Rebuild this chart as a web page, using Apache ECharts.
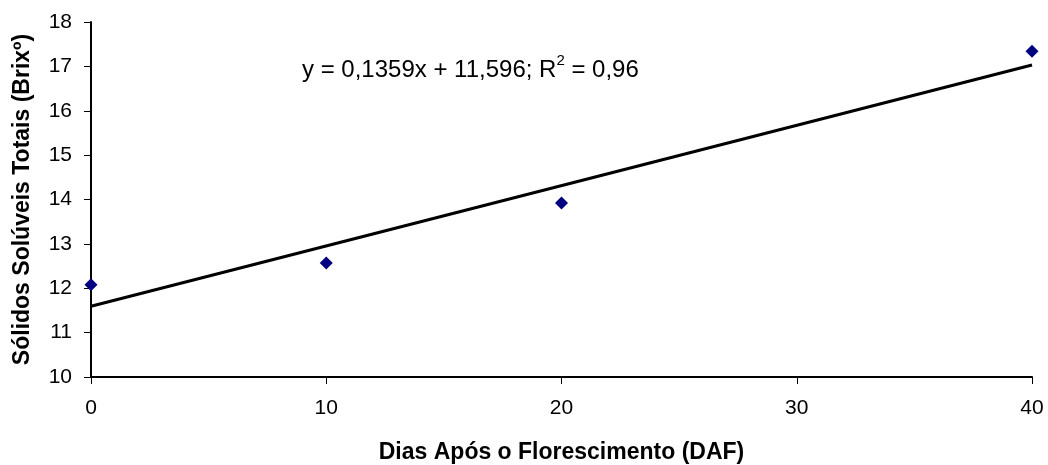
<!DOCTYPE html>
<html>
<head>
<meta charset="utf-8">
<script src="https://cdn.jsdelivr.net/npm/echarts@6/dist/echarts.min.js"></script>
<style>html,body{margin:0;padding:0;background:#fff;}#c{width:1048px;height:465px;}</style>
</head>
<body>
<div id="c"></div>
<script>
const daysX = [0, 10, 20, 40];
const brixY = [12.08, 12.57, 13.92, 17.34];
const trendSlope = 0.1359;
const trendIntercept = 11.596;
const trendRange = [0, 40];
const xTicks = [0, 10, 20, 30, 40];
const yTicks = [10, 11, 12, 13, 14, 15, 16, 17, 18];
const xTitle = 'Dias Após o Florescimento (DAF)';
const yTitle = 'Sólidos Solúveis Totais (Brixº)';

const trendData = trendRange.map(x => [x, trendSlope * x + trendIntercept]);
const chart = echarts.init(document.getElementById('c'), null, {renderer: 'canvas'});
const font = '"Liberation Sans", Arial, sans-serif';
chart.setOption({
  animation: false,
  backgroundColor: '#fff',
  grid: {left: 91, right: 16, top: 22, bottom: 88, containLabel: false, outerBoundsMode: 'none'},
  xAxis: {
    type: 'value', min: xTicks[0], max: xTicks[xTicks.length - 1], interval: 10,
    name: xTitle, nameLocation: 'middle', nameGap: 64,
    nameTextStyle: {fontFamily: font, fontWeight: 'bold', fontSize: 23, color: '#000'},
    axisLine: {lineStyle: {color: '#000', width: 2}},
    axisTick: {show: true, length: 7, lineStyle: {color: '#000', width: 1}},
    axisLabel: {fontFamily: font, fontSize: 21, color: '#000', margin: 21},
    splitLine: {show: false}
  },
  yAxis: {
    type: 'value', min: yTicks[0], max: yTicks[yTicks.length - 1], interval: 1,
    name: yTitle, nameLocation: 'middle', nameGap: 57, nameRotate: 90,
    nameTextStyle: {fontFamily: font, fontWeight: 'bold', fontSize: 23, color: '#000'},
    axisLine: {show: true, lineStyle: {color: '#000', width: 2}},
    axisTick: {show: true, length: 7, lineStyle: {color: '#000', width: 1}},
    axisLabel: {fontFamily: font, fontSize: 21, color: '#000', margin: 19},
    splitLine: {show: false}
  },
  series: [
    {
      type: 'line', data: trendData, symbol: 'none',
      lineStyle: {color: '#000', width: 3}, z: 2
    },
    {
      type: 'scatter', data: daysX.map((x, i) => [x, brixY[i]]),
      symbol: 'diamond', symbolSize: 13,
      itemStyle: {color: '#000080', opacity: 1}, z: 3
    }
  ],
  graphic: [{
    type: 'text', left: 302, top: 53,
    style: {
      text: '{n|y = 0,1359x + 11,596; R}{s|2}{n| = 0,96}',
      rich: {
        n: {fontFamily: font, fontSize: 24, fill: '#000', verticalAlign: 'bottom', lineHeight: 29},
        s: {fontFamily: font, fontSize: 15, fill: '#000', verticalAlign: 'top', lineHeight: 29, padding: [0, 0, 13, 0]}
      }
    }
  }]
});
</script>
</body>
</html>
